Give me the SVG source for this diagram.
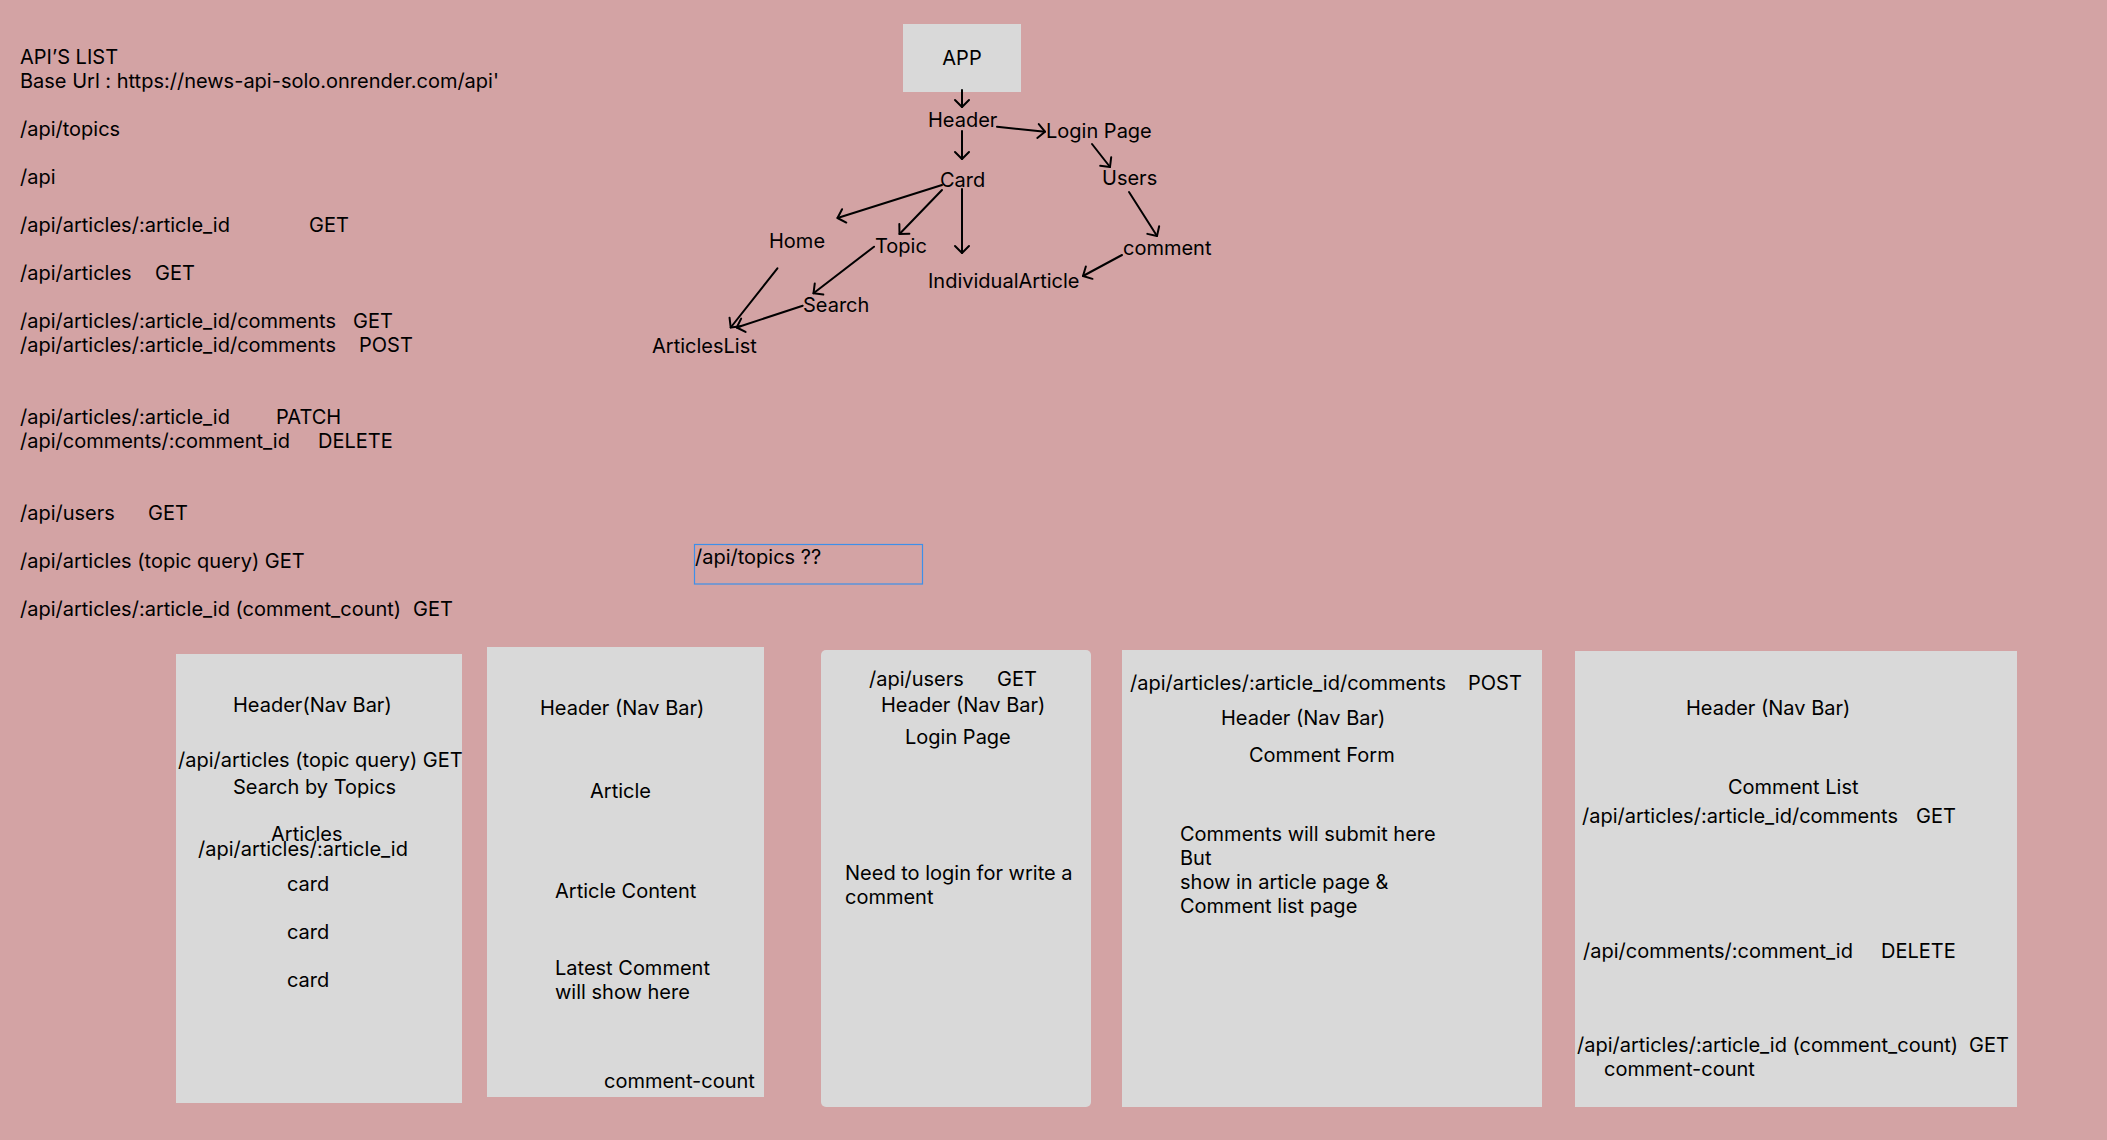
<svg xmlns="http://www.w3.org/2000/svg" width="2107" height="1140" viewBox="0 0 2107 1140">
<defs>
<style>
text{font-family:Inter,"Liberation Sans",Arial,sans-serif;font-size:20px;fill:#000;}
.panel{fill:#D9D9D9;}
.conn line{stroke:#000;stroke-width:2;stroke-linecap:round;marker-end:url(#arr);}
</style>
<marker id="arr" markerUnits="userSpaceOnUse" markerWidth="20" markerHeight="20" viewBox="-10 -10 20 20" refX="0" refY="0" orient="auto" overflow="visible">
<path d="M-7,-7 L0,0 L-7,7" fill="none" stroke="#000" stroke-width="2" stroke-linecap="round" stroke-linejoin="round"/>
</marker>
</defs>
<rect x="0" y="0" width="2107" height="1140" fill="#D3A3A4"/>

<g id="api-list">
<text x="20" y="64">API’S LIST</text>
<text x="20" y="88">Base Url : https://news-api-solo.onrender.com/api'</text>
<text x="20" y="136">/api/topics</text>
<text x="20" y="184">/api</text>
<text x="20" y="232">/api/articles/:article_id<tspan x="309">GET</tspan></text>
<text x="20" y="280">/api/articles<tspan x="155">GET</tspan></text>
<text x="20" y="328">/api/articles/:article_id/comments<tspan x="353">GET</tspan></text>
<text x="20" y="352">/api/articles/:article_id/comments<tspan x="359">POST</tspan></text>
<text x="20" y="424">/api/articles/:article_id<tspan x="276">PATCH</tspan></text>
<text x="20" y="448">/api/comments/:comment_id<tspan x="318">DELETE</tspan></text>
<text x="20" y="520">/api/users<tspan x="148">GET</tspan></text>
<text x="20" y="568">/api/articles (topic query) GET</text>
<text x="20" y="616">/api/articles/:article_id (comment_count)<tspan x="413">GET</tspan></text>
</g>

<g id="node-app">
<rect x="903" y="24" width="118" height="68" class="panel"/>
<text x="962" y="65" text-anchor="middle">APP</text>
</g>
<g id="node-header"><text x="928" y="127">Header</text></g>
<g id="node-login"><text x="1046" y="138">Login Page</text></g>
<g id="node-card"><text x="940" y="187">Card</text></g>
<g id="node-users"><text x="1102" y="185">Users</text></g>
<g id="node-home"><text x="769" y="248">Home</text></g>
<g id="node-topic"><text x="875" y="253">Topic</text></g>
<g id="node-comment"><text x="1123" y="255">comment</text></g>
<g id="node-individual"><text x="928" y="288">IndividualArticle</text></g>
<g id="node-search"><text x="803" y="312">Search</text></g>
<g id="node-articleslist"><text x="652" y="353">ArticlesList</text></g>

<g id="connectors" class="conn">
<line x1="962" y1="90" x2="962" y2="107"/>
<line x1="997" y1="126.7" x2="1045" y2="131.7"/>
<line x1="962" y1="131" x2="962" y2="159"/>
<line x1="1092" y1="144" x2="1110" y2="167"/>
<line x1="942" y1="185" x2="837.5" y2="218"/>
<line x1="942" y1="190" x2="899.5" y2="234"/>
<line x1="962" y1="189" x2="962" y2="253"/>
<line x1="1129" y1="192" x2="1157" y2="236"/>
<line x1="1122" y1="255" x2="1083" y2="276"/>
<line x1="874" y1="246.7" x2="813.5" y2="293.3"/>
<line x1="777.4" y1="268.3" x2="730.7" y2="327.5"/>
<line x1="802.7" y1="305.7" x2="736.7" y2="327.5"/>
</g>

<g id="note-topics">
<rect x="694.5" y="544.5" width="228" height="39.5" fill="none" stroke="#3D8FEA" stroke-width="1.2"/>
<text x="695" y="564">/api/topics ??</text>
</g>

<g id="panel-home">
<rect x="176" y="654" width="286" height="449" class="panel"/>
<text x="233" y="712">Header(Nav Bar)</text>
<text x="178" y="767">/api/articles (topic query) GET</text>
<text x="233" y="794">Search by Topics</text>
<text x="271" y="841">Articles</text>
<text x="198" y="856">/api/articles/:article_id</text>
<text x="287" y="891">card</text>
<text x="287" y="939">card</text>
<text x="287" y="987">card</text>
</g>

<g id="panel-article">
<rect x="487" y="647" width="277" height="450" class="panel"/>
<text x="540" y="715">Header (Nav Bar)</text>
<text x="590" y="798">Article</text>
<text x="555" y="898">Article Content</text>
<text x="555" y="975">Latest Comment</text>
<text x="555" y="999">will show here</text>
<text x="604" y="1088">comment-count</text>
</g>

<g id="panel-login">
<rect x="821" y="650" width="270" height="457" rx="5" class="panel"/>
<text x="869" y="686">/api/users<tspan x="997">GET</tspan></text>
<text x="881" y="712">Header (Nav Bar)</text>
<text x="905" y="744">Login Page</text>
<text x="845" y="880">Need to login for write a</text>
<text x="845" y="904">comment</text>
</g>

<g id="panel-comment-form">
<rect x="1122" y="650" width="420" height="457" class="panel"/>
<text x="1130" y="690">/api/articles/:article_id/comments<tspan x="1468">POST</tspan></text>
<text x="1221" y="725">Header (Nav Bar)</text>
<text x="1249" y="762">Comment Form</text>
<text x="1180" y="841">Comments will submit here</text>
<text x="1180" y="865">But</text>
<text x="1180" y="889">show in article page &amp;</text>
<text x="1180" y="913">Comment list page</text>
</g>

<g id="panel-comment-list">
<rect x="1575" y="651" width="442" height="456" class="panel"/>
<text x="1686" y="715">Header (Nav Bar)</text>
<text x="1728" y="794">Comment List</text>
<text x="1582" y="823">/api/articles/:article_id/comments<tspan x="1916">GET</tspan></text>
<text x="1583" y="958">/api/comments/:comment_id<tspan x="1881">DELETE</tspan></text>
<text x="1577" y="1052">/api/articles/:article_id (comment_count)<tspan x="1969">GET</tspan></text>
<text x="1604" y="1076">comment-count</text>
</g>
</svg>
